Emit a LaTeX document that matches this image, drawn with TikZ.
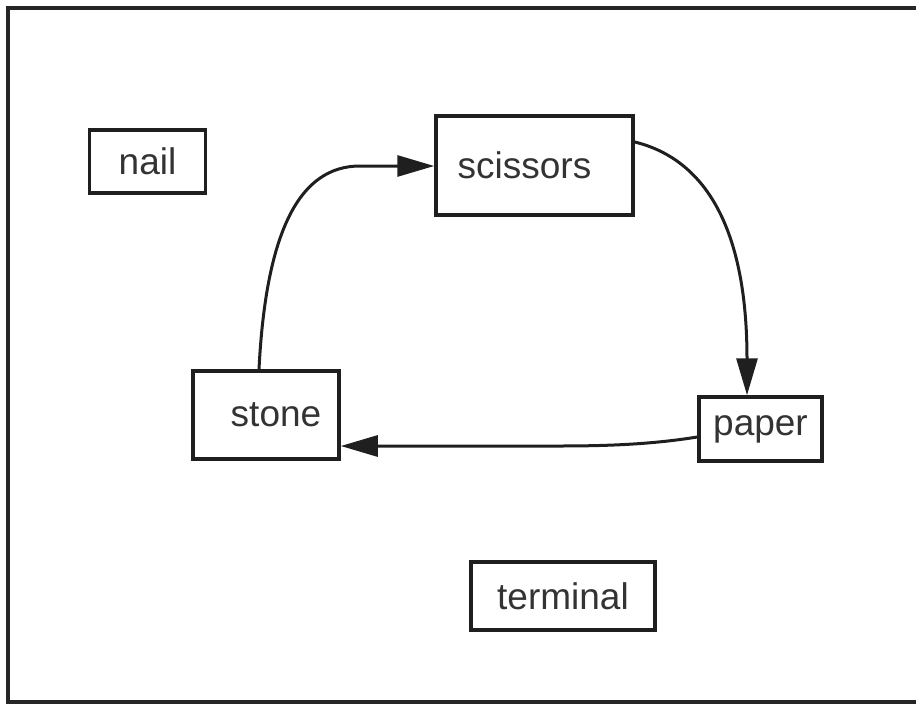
\documentclass[tikz,border=0pt]{standalone}
\usepackage{fontspec}
\setmainfont{Liberation Sans}
\usetikzlibrary{arrows.meta}
\begin{document}
\begin{tikzpicture}[x=1pt,y=-1pt,
  box/.style={draw=black!88, line width=3.5pt, inner sep=0pt, font=\fontsize{37}{40}\selectfont, text=black!80},
  conn/.style={draw=black!88, line width=3pt, -{Triangle[length=37pt,width=21pt]}}]
\useasboundingbox (0,0) rectangle (916,715);
% frame
\draw[line width=4pt, black!85] (918,8) -- (8,8) -- (8,702) -- (918,702);
% nodes
\node[box, minimum width=116pt, minimum height=63pt] (nail) at (147.5,161.5) {nail};
\node[box, minimum width=197pt, minimum height=99pt] (scissors) at (534.5,165.5) {scissors\hspace*{20pt}};
\node[box, minimum width=146pt, minimum height=88pt] (stone) at (266,415) {\hspace*{20pt}stone};
\node[box, minimum width=123pt, minimum height=64pt] (paper) at (760.5,429) {paper};
\node[box, minimum width=184pt, minimum height=68pt] (terminal) at (563,596) {terminal};
% connectors
\coordinate (s1) at (stone.north -| 259,0);
\coordinate (s2) at (scissors.west |- 0,166);
\draw[conn] (s1) .. controls (266,230) and (300,166) .. (360,166) -- (s2);
\coordinate (c1) at (scissors.east |- 0,142);
\coordinate (p1) at (paper.north -| 747,0);
\draw[conn] (c1) .. controls (700,158) and (747,220) .. (p1);
\coordinate (p2) at (paper.west |- 0,437);
\coordinate (t2) at (stone.east |- 0,446);
\draw[conn] (p2) .. controls (660,443) and (620,446) .. (560,446) -- (t2);
\end{tikzpicture}
\end{document}
